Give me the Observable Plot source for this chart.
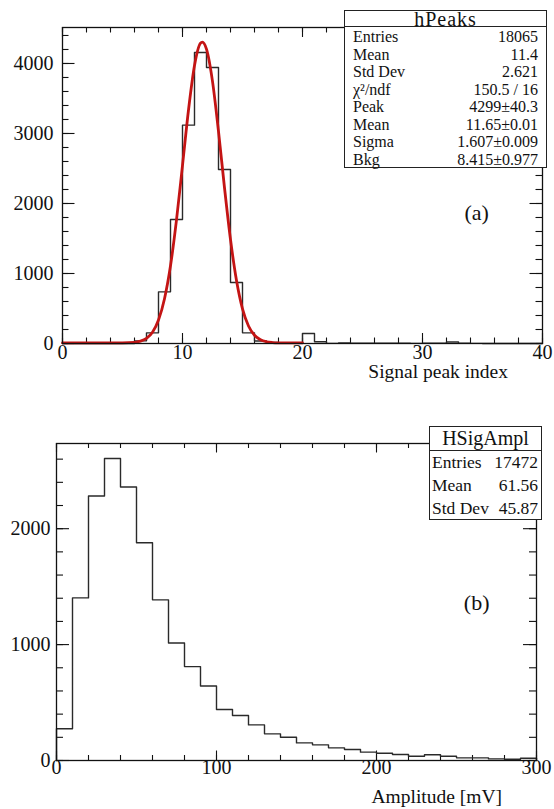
<!DOCTYPE html>
<html><head><meta charset="utf-8">
<script src="https://cdn.jsdelivr.net/npm/d3@7"></script>
<script src="https://cdn.jsdelivr.net/npm/@observablehq/plot@0.6"></script>
<style>
body{margin:0;background:#fff;font-family:"Liberation Serif","Times New Roman",serif;color:#111;}
#wrap{position:relative;width:554px;height:809px;overflow:hidden;background:#fff;}
.box{position:absolute;background:#fff;border:1px solid #222;box-sizing:border-box;}
.ttl{text-align:center;border-bottom:1px solid #222;box-sizing:border-box;white-space:nowrap;overflow:visible;}
.ttl span,.row span{display:inline-block;overflow:visible;}
.row{display:flex;justify-content:space-between;white-space:nowrap;}
.lab{position:absolute;white-space:nowrap;line-height:1;}
.tag{position:absolute;transform:translate(-50%,-50%);font-size:22px;line-height:1;}
</style></head>
<body><div id="wrap"></div>
<script>
// ---------- data: (a) signal peak index histogram, 40 bins of width 1 ----------
const peakBinWidth = 1;
const peakCounts = [0,0,0,0,0,0,38,152,738,1771,3119,4157,3943,2486,871,152,35,15,5,3,
                    143,24,2,8,3,6,6,3,5,2,3,4,22,3,2,1,1,0,0,0];
// gaussian + background fit curve
const fitX = [0,2,4,6,6.5,7,7.5,8,8.5,9,9.5,10,10.5,11,11.5,11.65,12,12.5,13,13.5,14,14.5,15,15.5,16,16.5,17,17.5,18,19,20];
const fitY = [8,8,8,17,33,73,160,335,640,1110,1765,2545,3335,3970,4290,4305,4205,3745,3030,2225,1485,900,495,250,118,53,25,14,10,8,8];
const peakXTicks = [0,10,20,30,40];
const peakYTicks = [0,1000,2000,3000,4000];
const peakStatLabels = ["Entries","Mean","Std Dev","χ²/ndf","Peak","Mean","Sigma","Bkg"];
const peakStatValues = ["18065","11.4","2.621","150.5 / 16","4299±40.3","11.65±0.01","1.607±0.009","8.415±0.977"];

// ---------- data: (b) amplitude histogram, 30 bins of 10 mV ----------
const ampBinWidth = 10;
const ampCounts = [274,1403,2282,2605,2360,1879,1386,1014,810,643,
                   440,388,307,230,201,152,135,109,95,72,
                   63,52,37,49,37,23,23,14,11,20];
const ampXTicks = [0,100,200,300];
const ampYTicks = [0,1000,2000];
const ampStatLabels = ["Entries","Mean","Std Dev"];
const ampStatValues = ["17472","61.56","45.87"];

// ---------- helpers ----------
function stepPoints(counts, w) {
  const pts = [{x: 0, y: 0}];
  counts.forEach((c, i) => pts.push({x: i * w, y: c}));
  pts.push({x: counts.length * w, y: counts[counts.length - 1]});
  pts.push({x: counts.length * w, y: 0});
  return pts;
}
function frameTicks(xMajor, xMinor, yMajor, yMinor, fw, fh, L) {
  const st = {stroke: "#111", strokeWidth: 1.1};
  return [
    Plot.tickX(xMajor, {x: d => d, insetTop: fh - L.xM, ...st}),
    Plot.tickX(xMinor, {x: d => d, insetTop: fh - L.xm, ...st}),
    Plot.tickX(xMajor, {x: d => d, insetBottom: fh - L.xM, ...st}),
    Plot.tickX(xMinor, {x: d => d, insetBottom: fh - L.xm, ...st}),
    Plot.tickY(yMajor, {y: d => d, insetRight: fw - L.yM, ...st}),
    Plot.tickY(yMinor, {y: d => d, insetRight: fw - L.ym, ...st}),
    Plot.tickY(yMajor, {y: d => d, insetLeft: fw - L.yM, ...st}),
    Plot.tickY(yMinor, {y: d => d, insetLeft: fw - L.ym, ...st})
  ];
}
function tickLabels(xt, yt, o) {
  const t = {fontSize: 20, fontFamily: '"Liberation Serif","Times New Roman",serif', fill: "#111"};
  return [
    Plot.text(xt, {x: d => d, text: d => String(d), frameAnchor: "bottom", lineAnchor: "top", dy: o.xdy, ...t}),
    Plot.text(yt, {y: d => d, text: d => String(d), frameAnchor: "left", textAnchor: "end", lineAnchor: "middle", dx: -o.ydx, ...t})
  ];
}
const style = {fontFamily: '"Liberation Serif","Times New Roman",serif', fontSize: "20px", color: "#111", background: "transparent", overflow: "visible"};
const wrap = document.getElementById("wrap");

// ---------- plot (a) ----------
{
  const W = 554, H = 400, mL = 62, mR = 12, mT = 27, mB = 57;
  const fw = W - mL - mR, fh = H - mT - mB;
  const L = {xM: 10, xm: 5.5, yM: 12.5, ym: 6.5};
  const p = Plot.plot({
    width: W, height: H, marginLeft: mL, marginRight: mR, marginTop: mT, marginBottom: mB,
    style,
    x: {domain: [0, 40], axis: null},
    y: {domain: [0, 4514], axis: null},
    marks: [
      ...frameTicks(peakXTicks, d3.range(0, 41, 2), peakYTicks, d3.range(0, 4514, 200), fw, fh, L),
      Plot.line(stepPoints(peakCounts, peakBinWidth), {x: "x", y: "y", curve: "step-after", stroke: "#2a2a2a", strokeWidth: 1.4}),
      Plot.line(fitX.map((x, i) => ({x, y: fitY[i]})), {x: "x", y: "y", curve: "monotone-x", stroke: "#c41414", strokeWidth: 2.8}),
      Plot.frame({stroke: "#111", strokeWidth: 1.3}),
      ...tickLabels(peakXTicks, peakYTicks, {xdy: 1, ydx: 9})
    ]
  });
  p.style.position = "absolute"; p.style.top = "0px"; p.style.left = "0px";
  wrap.appendChild(p);
}

// ---------- plot (b) ----------
{
  const W = 554, H = 409, mL = 56, mR = 18, mT = 43, mB = 49;
  const fw = W - mL - mR, fh = H - mT - mB;
  const L = {xM: 9.5, xm: 5, yM: 13, ym: 7};
  const p = Plot.plot({
    width: W, height: H, marginLeft: mL, marginRight: mR, marginTop: mT, marginBottom: mB,
    style,
    x: {domain: [0, 300], axis: null},
    y: {domain: [0, 2735], axis: null},
    marks: [
      ...frameTicks(ampXTicks, d3.range(0, 301, 20), ampYTicks, d3.range(0, 2735, 200), fw, fh, L),
      Plot.line(stepPoints(ampCounts, ampBinWidth), {x: "x", y: "y", curve: "step-after", stroke: "#2a2a2a", strokeWidth: 1.4}),
      Plot.frame({stroke: "#111", strokeWidth: 1.3}),
      ...tickLabels(ampXTicks, ampYTicks, {xdy: -1, ydx: 6})
    ]
  });
  p.style.position = "absolute"; p.style.top = "400px"; p.style.left = "0px";
  wrap.appendChild(p);
}

// ---------- stats boxes, labels ----------
function statBox(title, labels, values, o) {
  const b = document.createElement("div");
  b.className = "box";
  Object.assign(b.style, {left: o.left + "px", top: o.top + "px", width: o.w + "px", height: o.h + "px"});
  const t = document.createElement("div");
  t.className = "ttl";
  Object.assign(t.style, {height: o.th + "px"});
  const ts = document.createElement("span");
  ts.textContent = title;
  Object.assign(ts.style, {height: o.th + "px", lineHeight: o.th + "px", fontSize: o.tfs + "px", letterSpacing: o.tls + "px"});
  t.appendChild(ts);
  b.appendChild(t);
  const body = document.createElement("div");
  body.style.paddingTop = o.pt + "px";
  labels.forEach((l, i) => {
    const r = document.createElement("div");
    r.className = "row";
    Object.assign(r.style, {height: o.rh + "px", fontSize: o.fs + "px", paddingLeft: o.pl + "px", paddingRight: o.pr + "px"});
    const a = document.createElement("span"); a.textContent = l;
    const v = document.createElement("span"); v.textContent = values[i];
    [a, v].forEach(s => Object.assign(s.style, {height: o.rh + "px", lineHeight: o.rh + "px"}));
    r.appendChild(a); r.appendChild(v);
    body.appendChild(r);
  });
  b.appendChild(body);
  wrap.appendChild(b);
}
statBox("hPeaks", peakStatLabels, peakStatValues, {left: 344, top: 10, w: 203, h: 158, th: 16, tfs: 20, tls: 1, rh: 17.5, fs: 16, pl: 8, pr: 8, pt: 1});
statBox("HSigAmpl", ampStatLabels, ampStatValues, {left: 429, top: 426, w: 113, h: 94, th: 23.5, tfs: 20, tls: 0, rh: 23.4, fs: 17.5, pl: 2, pr: 3, pt: 0});

function label(text, o) {
  const d = document.createElement("div");
  d.className = "lab"; d.textContent = text;
  Object.assign(d.style, {right: o.right + "px", top: o.top + "px", fontSize: o.fs + "px"});
  wrap.appendChild(d);
}
label("Signal peak index", {right: 46, top: 362, fs: 19.5});
label("Amplitude [mV]", {right: 52, top: 787, fs: 19.5});

function tag(text, cx, cy) {
  const d = document.createElement("div");
  d.className = "tag"; d.textContent = text;
  Object.assign(d.style, {left: cx + "px", top: cy + "px"});
  wrap.appendChild(d);
}
tag("(a)", 476.7, 213);
tag("(b)", 476.7, 603);
</script>
</body></html>
